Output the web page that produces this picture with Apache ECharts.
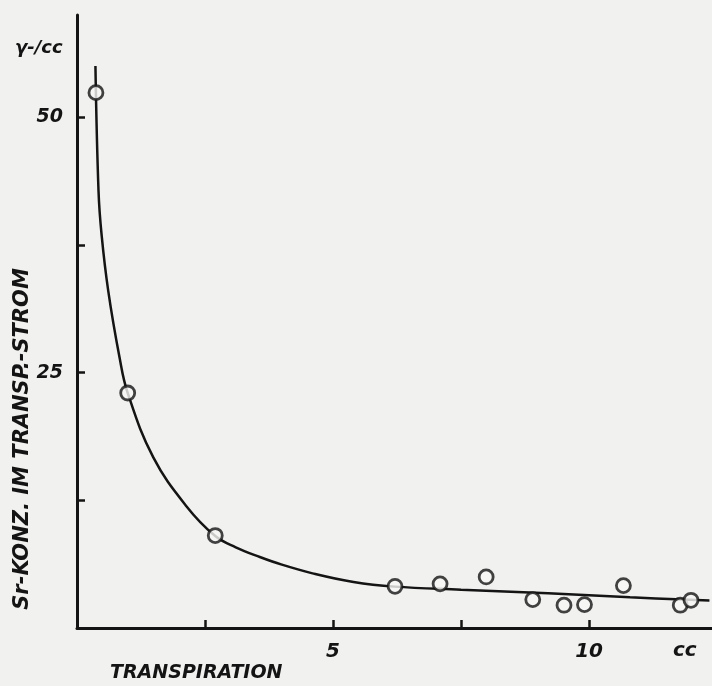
<!DOCTYPE html>
<html>
<head>
<meta charset="utf-8">
<script src="https://cdn.jsdelivr.net/npm/echarts@6/dist/echarts.min.js"></script>
<style>
html,body{margin:0;padding:0;background:#f1f1ef;}
#c{width:712px;height:686px;}
</style>
</head>
<body>
<div id="c"></div>
<script>
// Measured points (transpiration cc, Sr concentration γ/cc)
const pointsX = [0.37, 0.99, 2.70, 6.21, 7.09, 7.99, 8.90, 9.51, 9.91, 10.67, 11.78, 11.99];
const pointsY = [52.4, 23.0, 9.05, 4.08, 4.32, 5.0, 2.78, 2.23, 2.29, 4.15, 2.23, 2.71];
// Hand-drawn fitted curve
const curveX = [0.36, 0.42, 0.48, 0.61, 0.83, 0.99, 1.49, 2.14, 2.70, 3.1, 3.57, 4.0, 4.6, 5.4, 6.2, 7.5, 9.2, 10.8, 12.35];
const curveY = [55.0, 42.8, 38.5, 33.0, 26.5, 23.0, 16.7, 11.9, 9.0, 7.9, 6.95, 6.2, 5.35, 4.5, 4.05, 3.75, 3.4, 3.0, 2.7];
const xLabels = [5, 10];
const yLabels = [25, 50];

const ink = '#141414';
const font = '"DejaVu Sans", sans-serif';

const chart = echarts.init(document.getElementById('c'));
chart.setOption({
  backgroundColor: '#f1f1ef',
  animation: false,
  grid: {left: 77, right: 0, top: 15, bottom: 58, containLabel: false},
  xAxis: {
    type: 'value', min: 0, max: 12.4, interval: 2.5,
    splitLine: {show: false},
    axisLine: {lineStyle: {color: ink, width: 3}},
    axisTick: {inside: true, length: 8, lineStyle: {color: ink, width: 2.5}},
    axisLabel: {
      color: ink, fontSize: 20, fontStyle: 'italic', fontWeight: 'bold', fontFamily: font, margin: 14,
      showMaxLabel: false,
      formatter: v => xLabels.indexOf(v) >= 0 ? String(v) : ''
    }
  },
  yAxis: {
    type: 'value', min: 0, max: 60, interval: 12.5,
    splitLine: {show: false},
    axisLine: {lineStyle: {color: ink, width: 3}},
    axisTick: {inside: true, length: 8, lineStyle: {color: ink, width: 2.5}},
    axisLabel: {
      color: ink, fontSize: 19, fontStyle: 'italic', fontWeight: 'bold', fontFamily: font, margin: 14,
      showMaxLabel: false,
      formatter: v => yLabels.indexOf(v) >= 0 ? String(v) : ''
    }
  },
  graphic: [
    {type: 'text', left: 15, top: 39, style: {text: 'γ-/cc', fill: ink, font: 'italic bold 18px ' + font}},
    {type: 'text', left: 673, top: 641, style: {text: 'cc', fill: ink, font: 'italic bold 20px ' + font}},
    {type: 'text', left: 110, top: 664, style: {text: 'TRANSPIRATION', fill: ink, font: 'italic bold 19px ' + font}},
    {type: 'text', x: 23, y: 439, rotation: Math.PI / 2,
      style: {text: 'Sr-KONZ. IM TRANSP.-STROM', fill: ink, font: 'italic bold 21px ' + font,
        align: 'center', verticalAlign: 'middle'}}
  ],
  series: [
    {
      type: 'line', data: curveX.map((x, i) => [x, curveY[i]]),
      showSymbol: false, smooth: 0.4,
      lineStyle: {color: ink, width: 2.5}, z: 2
    },
    {
      type: 'scatter', data: pointsX.map((x, i) => [x, pointsY[i]]),
      symbol: 'circle', symbolSize: 14,
      itemStyle: {color: '#f8f8f6', borderColor: ink, borderWidth: 2.8}, z: 3
    }
  ]
});
</script>
</body>
</html>
